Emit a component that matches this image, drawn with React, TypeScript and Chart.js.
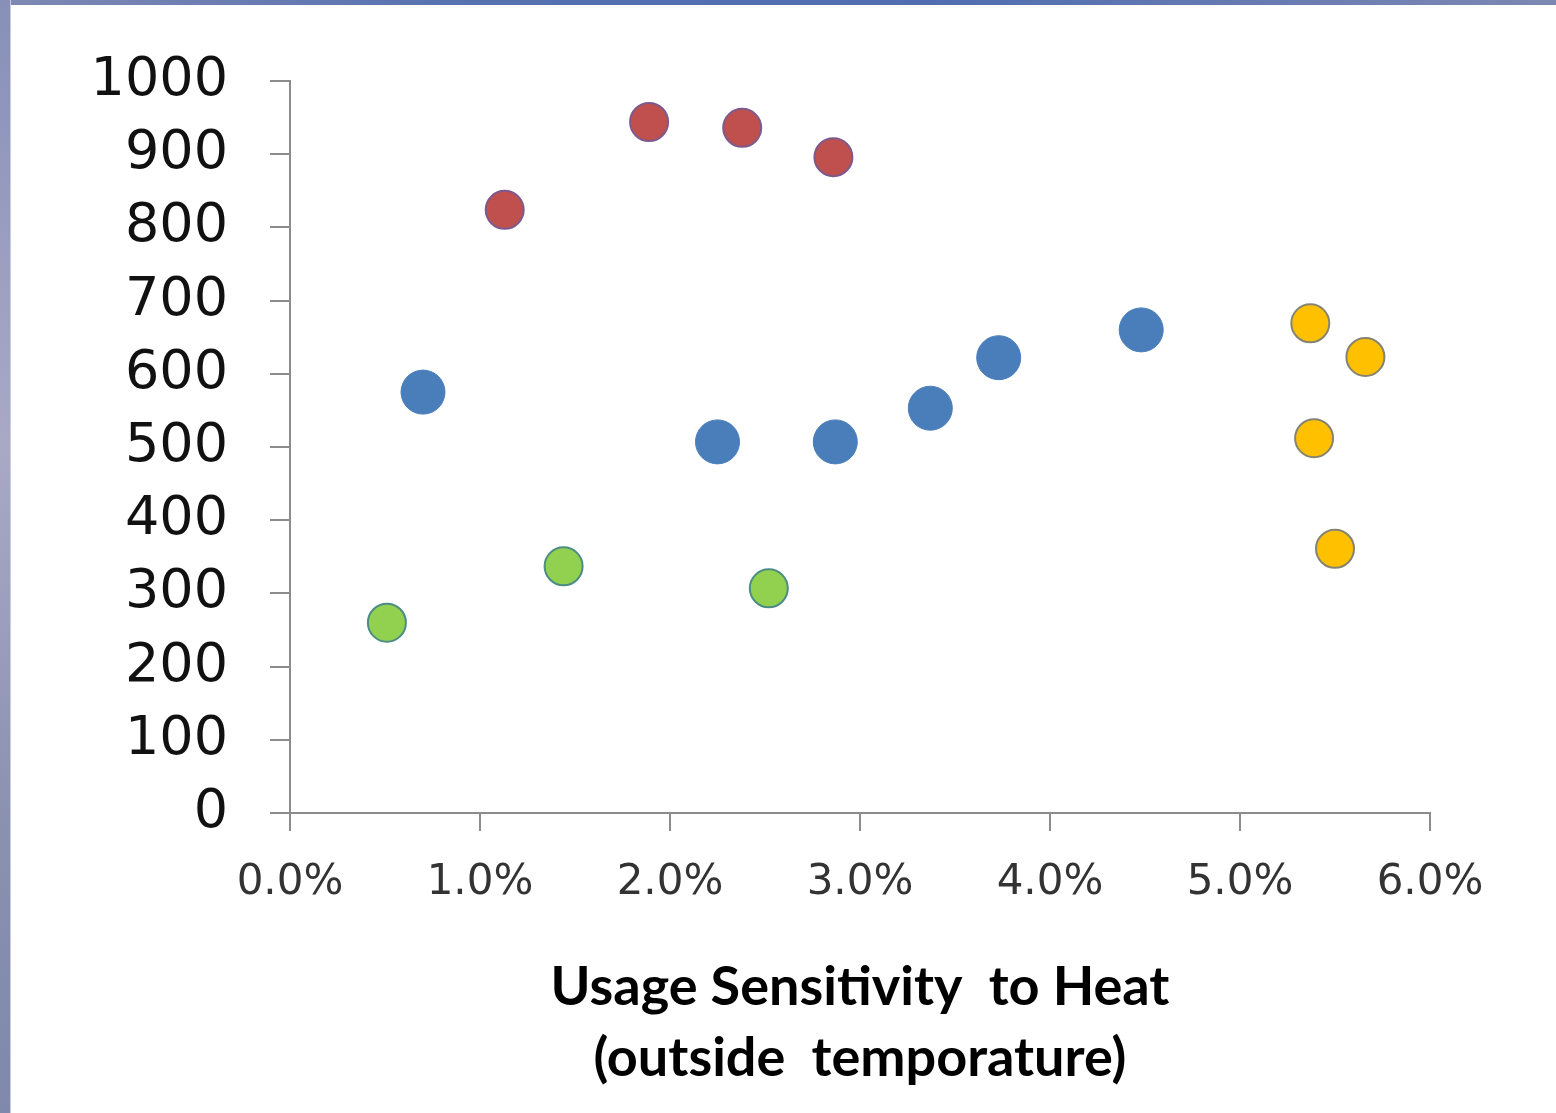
import React, { useEffect, useRef } from "react";
import { Chart, registerables } from "chart.js";

Chart.register(...registerables);

// Usage sensitivity to heat (%), and the y value for each group
const redX = [1.13, 1.89, 2.38, 2.86];
const redY = [824, 944, 936, 896];
const blueX = [0.7, 2.25, 2.87, 3.37, 3.73, 4.48];
const blueY = [575, 507, 507, 553, 622, 660];
const yellowX = [5.37, 5.66, 5.39, 5.5];
const yellowY = [669, 623, 512, 361];
const greenX = [0.51, 1.44, 2.52];
const greenY = [260, 337, 307];

const xTicks = [0, 1, 2, 3, 4, 5, 6];
const yTicks = [0, 100, 200, 300, 400, 500, 600, 700, 800, 900, 1000];
const xTitle = ["Usage Sensitivity  to Heat", "(outside  temporature)"];

const pts = (xs: number[], ys: number[]) => xs.map((x, i) => ({ x, y: ys[i] }));

export default function App() {
  const ref = useRef<HTMLCanvasElement | null>(null);
  useEffect(() => {
    document.body.style.margin = "0";
    const ctx = ref.current!;
    const chart = new Chart(ctx, {
      type: "scatter",
      data: {
        datasets: [
          {
            label: "Red",
            data: pts(redX, redY),
            backgroundColor: "#C0504D",
            borderColor: "#7D5A8C",
            borderWidth: 2,
            pointRadius: 19,
          },
          {
            label: "Blue",
            data: pts(blueX, blueY),
            backgroundColor: "#4A7EBB",
            borderColor: "#4A7EBB",
            borderWidth: 1,
            pointRadius: 22,
          },
          {
            label: "Yellow",
            data: pts(yellowX, yellowY),
            backgroundColor: "#FFC000",
            borderColor: "#858472",
            borderWidth: 2,
            pointRadius: 19,
          },
          {
            label: "Green",
            data: pts(greenX, greenY),
            backgroundColor: "#92D050",
            borderColor: "#4C8C84",
            borderWidth: 2,
            pointRadius: 19,
          },
        ],
      },
      options: {
        responsive: false,
        animation: false,
        layout: { padding: { top: 81, right: 126, left: 0, bottom: 0 } },
        plugins: { legend: { display: false }, tooltip: { enabled: false } },
        scales: {
          x: {
            type: "linear",
            min: 0,
            max: 6,
            afterFit: (s: any) => {
              s.height = 300;
            },
            afterBuildTicks: (s: any) => {
              s.ticks = xTicks.map((v) => ({ value: v }));
            },
            ticks: {
              callback: (v: any) => Number(v).toFixed(1) + "%",
              font: { family: "DejaVu Sans", size: 42 },
              color: "#333333",
              padding: 27,
            },
            grid: { drawOnChartArea: false, drawTicks: true, tickLength: 18, color: "#8c8c8c", lineWidth: 2 },
            border: { color: "#8c8c8c", width: 2 },
            title: {
              display: true,
              text: xTitle,
              font: { family: "Lato", size: 54, weight: "bold", lineHeight: 1.315 },
              color: "#000000",
              padding: { top: 0, bottom: 19 },
            },
          },
          y: {
            type: "linear",
            min: 0,
            max: 1000,
            afterFit: (s: any) => {
              s.width = 290;
            },
            afterBuildTicks: (s: any) => {
              s.ticks = yTicks.map((v) => ({ value: v }));
            },
            ticks: {
              callback: (v: any) => String(v),
              font: { family: "DejaVu Sans", size: 54 },
              color: "#111111",
              padding: 42,
            },
            grid: { drawOnChartArea: false, drawTicks: true, tickLength: 20, color: "#8c8c8c", lineWidth: 2 },
            border: { color: "#8c8c8c", width: 2 },
          },
        },
      },
    });
    return () => chart.destroy();
  }, []);

  return (
    <div style={{ position: "relative", width: 1556, height: 1113, background: "#ffffff", overflow: "hidden" }}>
      <div
        style={{
          position: "absolute",
          left: 0,
          top: 0,
          width: 1556,
          height: 5,
          background: "linear-gradient(to right, #7f89b3, #5571b0 30%, #4f6db0 60%, #7d88b2)",
        }}
      />
      <div
        style={{
          position: "absolute",
          left: 0,
          top: 0,
          width: 10,
          height: 1113,
          background: "linear-gradient(to bottom, #8890b8, #a9a9c6 40%, #8a90b0 75%, #7f89ab)",
          borderRight: "1px solid #c9cde0",
        }}
      />
      <canvas ref={ref} width={1556} height={1113} style={{ position: "absolute", left: 0, top: 0 }} />
    </div>
  );
}
